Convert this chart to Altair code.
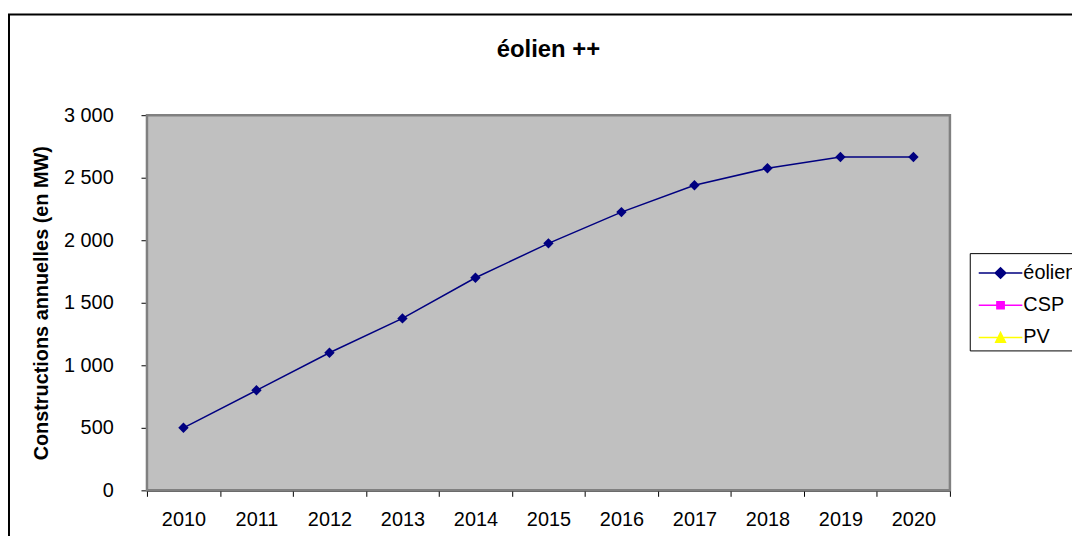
import altair as alt
import pandas as pd

years = [str(y) for y in range(2010, 2021)]
eolien = [500, 800, 1100, 1375, 1700, 1975, 2225, 2440, 2575, 2665, 2665]
series_names = ["éolien", "CSP", "PV"]
series_colors = ["#000080", "#FF00FF", "#FFFF00"]
legend_shapes = [
    "M-1.35,0L1.35,0M0,-0.33L0.34,0L0,0.33L-0.34,0Z",
    "M-1.35,0L1.35,0M-0.23,-0.23L0.23,-0.23L0.23,0.23L-0.23,0.23Z",
    "M-1.35,0L1.35,0M0,-0.33L0.31,0.3L-0.31,0.3Z",
]
y_ticks = [0, 500, 1000, 1500, 2000, 2500, 3000]
title_text = "éolien ++"
y_title = "Constructions annuelles (en MW)"

FONT = "Liberation Sans"
W, H = 809, 378

df = pd.DataFrame({"année": years, "MW": eolien, "série": ["éolien"] * len(years)})

x_enc = alt.X(
    "année:O",
    scale=alt.Scale(type="band", paddingInner=0, paddingOuter=0),
    axis=alt.Axis(
        title=None, labelAngle=0, labelFont=FONT, labelFontSize=20, labelColor="#000",
        labelPadding=13, tickBand="extent", tickSize=6, tickColor="#000",
        domainColor="#000", domainWidth=1.5, grid=False,
    ),
)
y_enc = alt.Y(
    "MW:Q",
    scale=alt.Scale(domain=[0, 3000], nice=False),
    axis=alt.Axis(
        values=y_ticks, title=y_title, titleFont=FONT, titleFontSize=20,
        titleFontWeight="bold", titleColor="#000", titleAngle=-90,
        titleX=-106, titleY=189, titleAlign="center", titleBaseline="middle",
        labelFont=FONT, labelFontSize=20, labelColor="#000", labelPadding=28,
        labelExpr="replace(format(datum.value, ','), ',', ' ')",
        tickSize=6, tickColor="#000", domainColor="#000", domainWidth=1.5,
        grid=True, gridColor="#111", gridWidth=1,
    ),
)

plot_bg = alt.Chart(pd.DataFrame({"k": [0]})).mark_rect(
    fill="#C0C0C0", stroke="#808080", strokeWidth=2.5
).encode(x=alt.value(0), x2=alt.value(W), y=alt.value(0), y2=alt.value(H))

base = alt.Chart(df)
line = base.mark_line(color="#000080", strokeWidth=1.5).encode(x=x_enc, y=y_enc)
pts = base.mark_point(shape="diamond", filled=True, color="#000080", size=110, opacity=1).encode(
    x="année:O", y="MW:Q"
)

legend_layer = (
    alt.Chart(df)
    .transform_filter("false")
    .mark_point(filled=True, opacity=1, strokeWidth=1.3)
    .encode(
        fill=alt.Fill("série:N", scale=alt.Scale(domain=series_names, range=series_colors),
                      legend=alt.Legend(title=None)),
        stroke=alt.Stroke("série:N", scale=alt.Scale(domain=series_names, range=series_colors),
                          legend=alt.Legend(title=None)),
        shape=alt.Shape("série:N", scale=alt.Scale(domain=series_names, range=legend_shapes),
                        legend=alt.Legend(title=None)),
    )
)

frame = alt.Chart(pd.DataFrame({"k": [0]})).mark_rect(
    filled=False, stroke="#000", strokeWidth=2
).encode(
    x=alt.value(-139), x2=alt.value(W + 200), y=alt.value(-101.5), y2=alt.value(H + 200)
)

title = alt.Chart(pd.DataFrame({"t": [title_text]})).mark_text(
    font=FONT, fontSize=24, fontWeight="bold", color="#000", baseline="alphabetic", align="center"
).encode(text="t:N", x=alt.value(W / 2), y=alt.value(-59))

chart = (
    alt.layer(frame, plot_bg, line, pts, legend_layer, title)
    .properties(
        width=W, height=H,
        padding={"left": 140, "top": 106, "right": 123, "bottom": 44},
        autosize=alt.AutoSizeParams(type="none"),
    )
    .configure_view(stroke=None)
    .configure_legend(
        orient="none", legendX=829, legendY=139,
        strokeColor="#000", strokeWidth=1, fillColor="#FFFFFF",
        padding=3, symbolSize=1060, symbolOffset=11, symbolStrokeWidth=1.3,
        labelFont=FONT, labelFontSize=20, labelColor="#000", labelOffset=6,
        rowPadding=5.5, labelLimit=200,
    )
)

chart.save("out.html", embed_options={"renderer": "svg", "actions": False})
